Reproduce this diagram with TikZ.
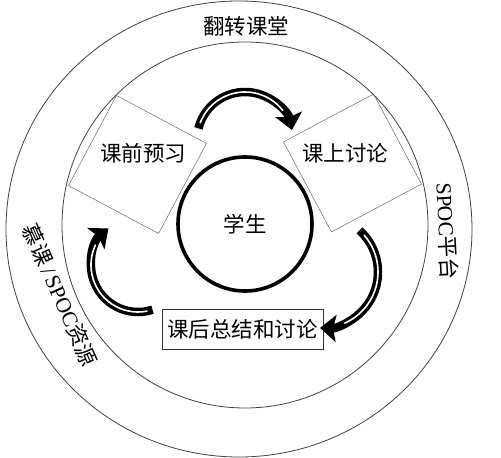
\documentclass[tikz,border=0pt]{standalone}
\usepackage{fontspec}
\setmainfont{Liberation Serif}
\newfontfamily\cjk{Noto Sans CJK SC}
\usepackage{tikz}
\usetikzlibrary{shapes.geometric, arrows, arrows.meta, calc}

\begin{document}
\begin{tikzpicture}[x=1pt, y=1pt,
    ring/.style={draw=black!75, line width=0.8pt},
    stagebox/.style={draw=black!60, line width=0.5pt, minimum size=102pt, inner sep=0pt},
    label/.style={font=\fontsize{21.5}{21.5}\selectfont, inner sep=0pt},
    cyc/.style={line width=8.5pt, -{Stealth[length=16pt, width=27pt, inset=3pt]}},
    stripe/.style={white, line width=1.6pt, line cap=round}]
    \useasboundingbox (0,0) rectangle (501,458);

    % the two rings and the student in the middle
    \draw[ring] (239,229) ellipse [x radius=233, y radius=228];
    \draw[ring] (245,233) circle [radius=183];
    \draw[line width=3.6pt] (245,234) circle [radius=67] node[label] (stu) {\cjk 学生};

    % texts on the outer ring
    \path (246,432) node[label] (flip) {\cjk 翻转课堂};
    \path (447,227) node[label, rotate=-87] (spoc) {SPOC{\cjk 平台}};
    \path (60,163) node[label, rotate=-66] (mooc) {{\cjk 慕课}\,/\,SPOC{\cjk 资源}};

    % the three stages
    \node[stagebox, rotate=-28] (box1) at (137.5,293.5) {};
    \node[stagebox, rotate=28] (box2) at (352.5,295) {};
    \path (143,305) node[label] (pre) {\cjk 课前预习};
    \path (345,305) node[label] (inclass) {\cjk 课上讨论};
    \node[draw=black!80, line width=0.8pt, minimum width=161pt, minimum height=40pt, inner sep=0pt,
          font=\fontsize{21.5}{21.5}\selectfont] (post) at (242.5,129) {\cjk 课后总结和讨论};

    % arrows of the cycle: centre, radius, start and end angle
    \foreach \i/\cx/\cy/\r/\a/\b in {1/245/318/48/166/12, 2/322/186/56/48/-92, 3/138/193/47/-72/-231}
    {
    \coordinate (s\i) at ($(\cx,\cy)+(\a:\r)$);
    \draw[cyc] (s\i) arc[start angle=\a, end angle=\b, radius=\r];
    \draw[stripe] ($(\cx,\cy)+({\a-7}:\r)$) arc[start angle=\a-7, end angle=\b+26, radius=\r];
    }
\end{tikzpicture}
\end{document}
